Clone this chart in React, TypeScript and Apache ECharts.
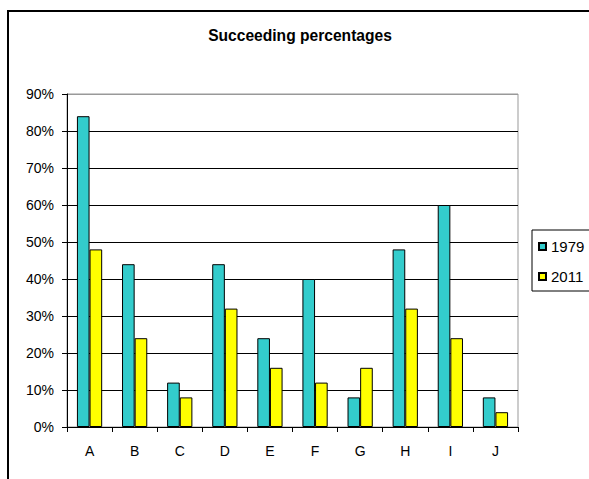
import React, { useEffect, useRef } from "react";
import * as echarts from "echarts";

const categories = ["A", "B", "C", "D", "E", "F", "G", "H", "I", "J"];
const values1979 = [0.84, 0.44, 0.12, 0.44, 0.24, 0.4, 0.08, 0.48, 0.6, 0.08];
const values2011 = [0.48, 0.24, 0.08, 0.32, 0.16, 0.12, 0.16, 0.32, 0.24, 0.04];
const seriesNames = ["1979", "2011"];
const titleText = "Succeeding percentages";

const FONT = "'Liberation Sans', Arial, sans-serif";

export default function App() {
  const ref = useRef<HTMLDivElement>(null);
  useEffect(() => {
    document.body.style.margin = "0";
    const chart = echarts.init(ref.current!, null, { renderer: "svg" });
    const splitColors = ["#000", "#000", "#000", "#000", "#000", "#000", "#000", "#000", "#000", "#999"];
    chart.setOption({
      animation: false,
      backgroundColor: "#fff",
      title: {
        text: titleText,
        left: 300,
        textAlign: "center",
        top: 27,
        padding: 0,
        textStyle: { fontFamily: FONT, fontSize: 15.6, fontWeight: "bold", color: "#000" },
      },
      legend: {
        orient: "vertical",
        left: 532,
        top: 230,
        padding: [9, 6, 7, 6],
        itemGap: 15,
        itemWidth: 7,
        itemHeight: 7,
        icon: "rect",
        borderColor: "#000",
        borderWidth: 1,
        textStyle: { fontFamily: FONT, fontSize: 15, color: "#000" },
        data: seriesNames,
      },
      grid: {
        left: 67,
        top: 94,
        width: 451,
        height: 333,
        show: true,
        borderColor: "#999",
        borderWidth: 1,
        containLabel: false,
      },
      xAxis: {
        type: "category",
        data: categories,
        axisLine: { lineStyle: { color: "#000", width: 1 } },
        axisTick: { show: true, length: 5, alignWithLabel: false, lineStyle: { color: "#000" } },
        axisLabel: { fontFamily: FONT, fontSize: 14, color: "#000", margin: 17 },
      },
      yAxis: {
        type: "value",
        min: 0,
        max: 0.9,
        interval: 0.1,
        axisLine: { show: true, lineStyle: { color: "#000", width: 1 } },
        axisTick: { show: true, length: 5, lineStyle: { color: "#000" } },
        axisLabel: {
          fontFamily: FONT,
          fontSize: 14,
          color: "#000",
          margin: 13,
          formatter: (v: number) => Math.round(v * 100) + "%",
        },
        splitLine: { show: true, lineStyle: { color: splitColors, width: 1 } },
      },
      series: [
        {
          name: seriesNames[0],
          type: "bar",
          data: values1979,
          barGap: "0%",
          barCategoryGap: "44%",
          itemStyle: { color: "#33CCCC", borderColor: "#000", borderWidth: 1 },
        },
        {
          name: seriesNames[1],
          type: "bar",
          data: values2011,
          barGap: "0%",
          barCategoryGap: "44%",
          itemStyle: { color: "#FFFF00", borderColor: "#000", borderWidth: 1 },
        },
      ],
      graphic: [
        {
          type: "polyline",
          shape: { points: [[8, 600], [8, 11], [700, 11]] },
          style: { stroke: "#000", lineWidth: 2, fill: "none" },
          silent: true,
        },
      ],
    });
    return () => chart.dispose();
  }, []);
  return <div ref={ref} style={{ width: 589, height: 479 }} />;
}
